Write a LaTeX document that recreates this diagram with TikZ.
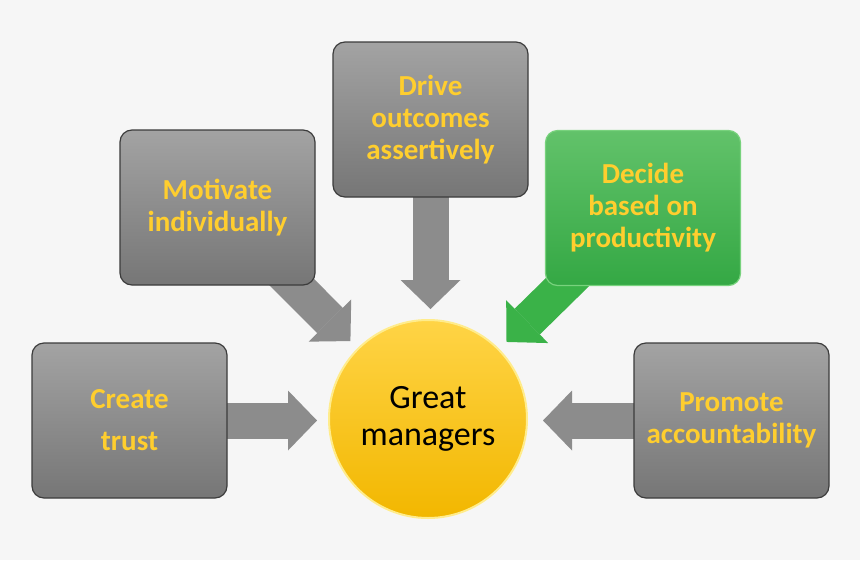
\documentclass[tikz,border=0pt]{standalone}
\usepackage{fontspec}
\setmainfont{Carlito}
\usepackage{xcolor}
\usetikzlibrary{arrows.meta, positioning, backgrounds}
\definecolor{pagegray}{RGB}{246,246,246}
\definecolor{labelyellow}{RGB}{255,206,46}
\definecolor{slatetop}{RGB}{163,163,163}
\definecolor{slatebottom}{RGB}{118,118,118}
\definecolor{slateline}{RGB}{60,60,60}
\definecolor{leaftop}{RGB}{98,194,106}
\definecolor{leafbottom}{RGB}{52,168,68}
\definecolor{leafline}{RGB}{120,210,125}
\definecolor{leafshaft}{RGB}{58,178,72}
\definecolor{goldtop}{RGB}{255,212,70}
\definecolor{goldbottom}{RGB}{242,183,0}
\definecolor{goldline}{RGB}{255,236,140}
\definecolor{shaftgray}{RGB}{140,140,140}

\begin{document}
\begin{tikzpicture}[
    x=1pt, y=-1pt,
    box/.style={rectangle, draw=#1line, top color=#1top, bottom color=#1bottom, line width=1.2pt,
                rounded corners=12pt, minimum width=195pt, minimum height=155pt, inner sep=0pt,
                align=center, text=labelyellow, font=\fontsize{29}{32}\selectfont\bfseries},
    hub/.style={circle, draw=goldline, top color=goldtop, bottom color=goldbottom, line width=2pt,
                minimum size=198pt, align=center, font=\fontsize{34}{37}\selectfont},
    blockarrow/.style={draw=#1, line width=36pt, shorten >=10pt,
                -{Triangle[length=29pt, width=60pt, line width=0pt]}}
]
\node[hub] (gm) at (428,419) {Great\\managers};
\node[box=slate] (trust) at (129.5,420.5) {Create\\[10pt]trust};
\node[box=slate] (motiv) at (217.5,207.5) {Motivate\\individually};
\node[box=slate] (drive) at (430.5,119.5) {Drive\\outcomes\\assertively};
\node[box=leaf] (decide) at (643,208) {Decide\\based on\\productivity};
\node[box=slate] (promo) at (731.5,420.5) {Promote\\accountability};
\begin{scope}[on background layer]
\fill[pagegray] (0,0) rectangle (860,560);
\draw[blockarrow=shaftgray, shorten >=11pt] (trust.center) -- (trust.center -| gm.west);
\draw[blockarrow=shaftgray] (motiv.center) -- (gm);
\draw[blockarrow=shaftgray] (drive.center) -- (drive.center |- gm.north);
\draw[blockarrow=leafshaft] (decide.center) -- (gm);
\draw[blockarrow=shaftgray, shorten >=15pt] (promo.center) -- (promo.center -| gm.east);
\end{scope}
\end{tikzpicture}
\end{document}
